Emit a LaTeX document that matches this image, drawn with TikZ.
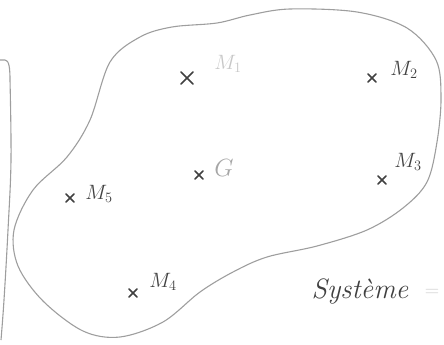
\documentclass[tikz,border=0pt]{standalone}
\usepackage{fontspec}
\begin{document}
\begin{tikzpicture}[x=1pt,y=-1pt,
  outline/.style={draw=black!38, line width=1.1pt, line join=round},
  crossmark/.style={draw=black!75, line width=1.5pt, line cap=round},
  dark/.style={text=black!75, font=\fontsize{21}{23}\selectfont, inner sep=0pt},
  faint/.style={text=black!22, font=\fontsize{21}{23}\selectfont, inner sep=0pt},
  mid/.style={text=black!35, font=\fontsize{26}{28}\selectfont, inner sep=0pt}]
\useasboundingbox (0,0) rectangle (444,345);
% left edge line
\draw[outline] (0,60) -- (5,60) .. controls (9,60) and (10,68) .. (10,80)
  plot[smooth, tension=0.6] coordinates {(10,80) (11,160) (8,230) (4,300) (1,340)};
% system outline
\draw[outline] plot[smooth cycle, tension=0.55] coordinates {
 (110,62) (140,37) (172,27) (217,23) (250,15) (290,9) (357,12) (407,28) (436,60)
 (441,98) (437,142) (427,182) (403,208) (367,230) (317,246) (267,257) (233,272)
 (200,292) (163,322) (120,337) (83,331) (43,301) (18,266) (14,230) (33,190)
 (67,157) (90,120)};
% crosses
\foreach \n/\x/\y/\s in {c1/187/78/6, c2/372/78/4, c3/382/180/4, cg/199/175/4, c5/70/198/4, c4/133/293/4}{
  \coordinate (\n) at (\x,\y);
  \draw[crossmark] ([shift={(-\s,-\s)}]\n) -- ([shift={(\s,\s)}]\n);
  \draw[crossmark] ([shift={(-\s,\s)}]\n) -- ([shift={(\s,-\s)}]\n);
}
% labels
\node[faint] (l1) at (228,64) {$M_1$};
\node[dark] (l2) at (404,70) {$M_2$};
\node[dark] (l3) at (408,162) {$M_3$};
\node[mid] (lg) at (224,168) {$G$};
\node[dark] (l5) at (99,194) {$M_5$};
\node[dark] (l4) at (163,282) {$M_4$};
\node[text=black!75, font=\fontsize{28}{30}\selectfont\itshape, inner sep=0pt] (sys) at (360,291) {Système};
\node[text=black!18, font=\fontsize{20}{22}\selectfont, inner sep=0pt] (eq) at (432,293) {=};
\end{tikzpicture}
\end{document}
